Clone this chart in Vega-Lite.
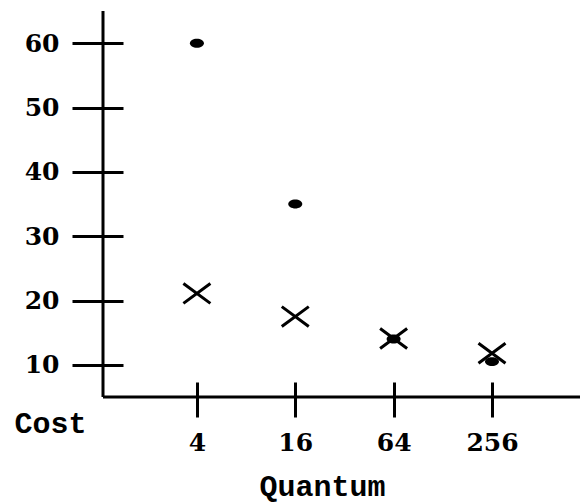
{
  "$schema": "https://vega.github.io/schema/vega-lite/v6.json",
  "width": 477,
  "height": 386,
  "autosize": "none",
  "padding": {"left": 103, "top": 11, "right": 0, "bottom": 107},
  "background": "white",
  "config": {"view": {"stroke": null}, "axis": {"grid": false}},
  "data": {"values": [
    {"quantum": 4, "cost": 60, "series": "dot"},
    {"quantum": 16, "cost": 35, "series": "dot"},
    {"quantum": 64, "cost": 14, "series": "dot"},
    {"quantum": 256, "cost": 10.5, "series": "dot"},
    {"quantum": 4, "cost": 21.1, "series": "cross"},
    {"quantum": 16, "cost": 17.5, "series": "cross"},
    {"quantum": 64, "cost": 14.1, "series": "cross"},
    {"quantum": 256, "cost": 11.8, "series": "cross"}
  ]},
  "encoding": {
    "x": {
      "field": "quantum", "type": "quantitative",
      "scale": {"type": "log", "base": 2, "domain": [1.065, 885], "nice": false},
      "axis": {
        "values": [4, 16, 64, 256], "format": "d",
        "offset": -15, "tickSize": 35, "tickWidth": 3, "tickColor": "black",
        "domain": false, "grid": false,
        "labelFont": "DejaVu Serif", "labelFontWeight": 900, "labelFontSize": 25, "labelColor": "black",
        "labelPadding": 13, "labelFlush": false, "labelOverlap": false,
        "title": "Quantum", "titleFont": "Liberation Mono", "titleFontWeight": "bold", "titleFontSize": 30, "titleColor": "black",
        "titleX": 219, "titleY": 113, "titleAlign": "center", "titleBaseline": "alphabetic"
      }
    },
    "y": {
      "field": "cost", "type": "quantitative",
      "scale": {"domain": [5, 65], "nice": false, "zero": false},
      "axis": {
        "values": [10, 20, 30, 40, 50, 60],
        "offset": -20, "tickSize": 51, "tickWidth": 3, "tickColor": "black",
        "domain": false, "grid": false,
        "labelFont": "DejaVu Serif", "labelFontWeight": 900, "labelFontSize": 25, "labelColor": "black",
        "labelPadding": 13,
        "title": "Cost", "titleAngle": 0, "titleFont": "Liberation Mono", "titleFontWeight": "bold", "titleFontSize": 30, "titleColor": "black",
        "titleX": -73, "titleY": 421, "titleAlign": "center", "titleBaseline": "alphabetic"
      }
    }
  },
  "layer": [
    {
      "data": {"values": [{"x0": 1.065, "y0": 5, "y1": 65}]},
      "mark": {"type": "rule", "color": "black", "strokeWidth": 3},
      "encoding": {
        "x": {"field": "x0", "type": "quantitative"},
        "y": {"field": "y0", "type": "quantitative"},
        "y2": {"field": "y1"}
      }
    },
    {
      "data": {"values": [{"x0": 1.065, "x1": 885, "y0": 5}]},
      "mark": {"type": "rule", "color": "black", "strokeWidth": 3},
      "encoding": {
        "x": {"field": "x0", "type": "quantitative"},
        "x2": {"field": "x1"},
        "y": {"field": "y0", "type": "quantitative"}
      }
    },
    {
      "transform": [{"filter": "datum.series === 'dot'"}],
      "mark": {"type": "point", "shape": "M-1,0A1,0.64,0,1,0,1,0A1,0.64,0,1,0,-1,0Z", "size": 196, "filled": true, "color": "black", "opacity": 1}
    },
    {
      "transform": [{"filter": "datum.series === 'cross'"}],
      "mark": {"type": "point", "shape": "M-1,-0.74L1,0.74M-1,0.74L1,-0.74", "size": 729, "filled": false, "color": "black", "strokeWidth": 3, "opacity": 1}
    }
  ]
}
